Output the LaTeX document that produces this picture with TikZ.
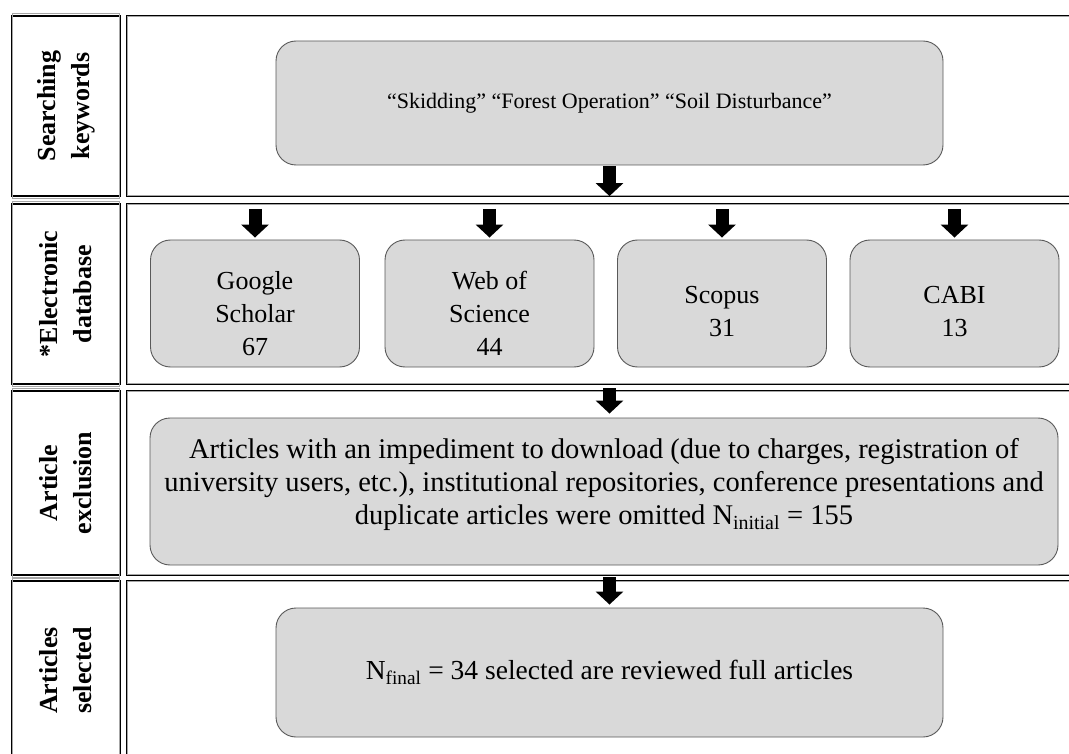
\documentclass[tikz,border=0pt]{standalone}
\usepackage{fontspec}
\setmainfont{Liberation Serif}
\usetikzlibrary{arrows.meta}
\definecolor{boxgray}{HTML}{D9D9D9}
\definecolor{edgegray}{HTML}{595959}
\tikzset{
  band/.style={draw=black, line width=2.2pt, inner sep=0pt},
  lbl/.style={band, rotate=90, align=center, font=\bfseries\fontsize{26}{34}\selectfont},
  stepbox/.style={draw=edgegray, fill=boxgray, line width=0.9pt, rounded corners=20pt,
    inner sep=0pt, align=center, font=\fontsize{26}{33}\selectfont},
  dbbox/.style={stepbox, minimum width=209, minimum height=127, text height=104pt},
  fat/.style={line width=13pt, -{Triangle[width=27pt,length=13pt]}},
  rim/.style={draw=gray!70, line width=0.8pt}
}
\begin{document}
\begin{tikzpicture}[x=1pt,y=-1pt]
\useasboundingbox (0,0) rectangle (1069,754);
\clip (0,0) rectangle (1069,754);
% row labels
\node[lbl, minimum width=180, minimum height=108] (kwlbl) at (66,106) {Searching\\keywords};
\node[lbl, minimum width=180, minimum height=108] (dblbl) at (66,294) {*Electronic\\database};
\node[lbl, minimum width=184, minimum height=108] (exlbl) at (66,483) {Article\\exclusion};
\node[lbl, minimum width=179, minimum height=108] (sellbl) at (66,670.5) {Articles\\selected};
% row bands
\node[band, minimum width=958, minimum height=180] (kwband) at (606,106) {};
\node[band, minimum width=958, minimum height=180] (dbband) at (606,294) {};
\node[band, minimum width=958, minimum height=184] (exband) at (606,483) {};
\node[band, minimum width=958, minimum height=179] (selband) at (606,670.5) {};
\foreach \n in {kwlbl,dblbl,exlbl,sellbl,kwband,dbband,exband,selband}
  \draw[rim] ([shift={(1.7pt,-1.7pt)}]\n.north west) rectangle ([shift={(-1.7pt,1.7pt)}]\n.south east);
% boxes
\node[stepbox, minimum width=667, minimum height=124, font=\fontsize{22}{28}\selectfont] (kw) at (609.5,103)
  {“Skidding” “Forest Operation” “Soil Disturbance”};
\node[dbbox] (gs) at (255,303.5) {Google\\Scholar\\67};
\node[dbbox] (wos) at (489.5,303.5) {Web of\\Science\\44};
\node[dbbox, text height=67pt] (sco) at (722,303.5) {Scopus\\31};
\node[dbbox, text height=67pt] (cabi) at (954.5,303.5) {CABI\\13};
\node[stepbox, minimum width=908, minimum height=147, text depth=21pt, font=\fontsize{28.5}{33}\selectfont] (ex) at (604,491.5)
  {Articles with an impediment to download (due to charges, registration of\\
   university users, etc.), institutional repositories, conference presentations and\\
   duplicate articles were omitted N\textsubscript{initial} = 155};
\node[stepbox, minimum width=667, minimum height=129, font=\fontsize{27.5}{33}\selectfont] (sel) at (609.5,672.5)
  {N\textsubscript{final} = 34 selected are reviewed full articles};
% arrows
\draw[fat] ([yshift=-1pt]kw.south) -- ([yshift=1pt]kw.south |- kwband.south);
\foreach \b in {gs,wos,sco,cabi}
  \draw[fat] ([yshift=-6pt]\b.north |- dbband.north) -- ([yshift=2pt]\b.north);
\draw[fat] ([yshift=-3pt]kw.south |- dbband.south) -- ([yshift=4pt]kw.south |- ex.north);
\draw[fat] ([yshift=-1pt]kw.south |- exband.south) -- ([yshift=3pt]sel.north);
\end{tikzpicture}
\end{document}
